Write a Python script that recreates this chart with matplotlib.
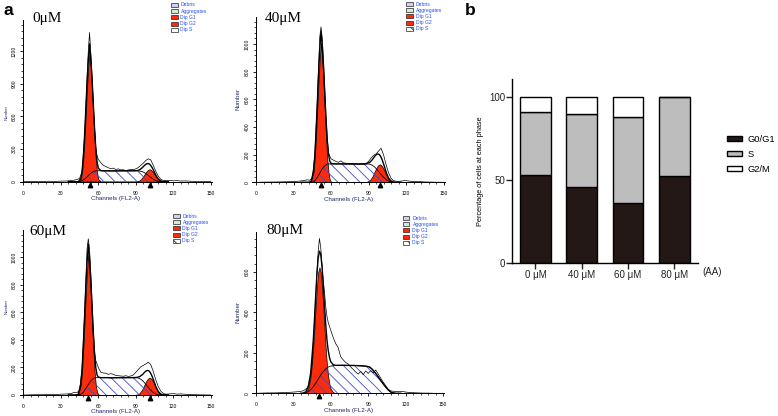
import numpy as np
import matplotlib.pyplot as plt
from matplotlib.patches import Rectangle, Patch
from matplotlib.ticker import MultipleLocator

plt.rcParams["font.family"] = ["Liberation Sans", "DejaVu Sans"]
plt.rcParams["hatch.linewidth"] = 0.6

W, H = 778, 416

# ---- panel a: flow cytometry histograms ----
# channel grid for the fitted components (G1, S, G2)
CH = [36, 38, 40, 42, 44, 46, 47, 48, 49, 50, 51, 52, 53, 54, 55, 56, 57, 58, 59, 60,
      62, 64, 67, 70, 80, 88, 91, 93, 95, 96, 97, 98, 99, 100, 101, 102, 103, 104, 105, 106,
      108, 110, 112, 116]
# channel grid for the raw histogram
RAW_CH = [0, 5, 10, 15, 20, 25, 30, 34, 38, 41, 43, 45, 47, 49, 50, 51, 52, 53, 54, 55,
          56, 57, 58, 59, 60, 62, 64, 66, 68, 70, 72, 74, 76, 78, 80, 82, 84, 86, 88, 90,
          92, 94, 96, 98, 100, 102, 104, 106, 108, 110, 112, 114, 117, 120, 123, 126, 130, 134, 138, 143,
          150]

# 0 uM
G1_0 = [0, 0, 0, 0, 0, 24, 84, 204, 396, 624, 864, 1056, 1200, 1056, 864, 624, 396, 204, 84, 24,
        0, 0, 0, 0, 0, 0, 0, 0, 0, 0, 0, 0, 0, 0, 0, 0, 0, 0, 0, 0, 0, 0, 0, 0]
S_0 = [0, 0, 0, 0, 0, 5, 10, 16, 24, 34, 45, 56, 67, 77, 86, 92, 97, 100, 101, 101,
       101, 100, 100, 99, 100, 100, 100, 98, 93, 88, 82, 74, 66, 57, 48, 39, 31, 23, 16, 10, 3, 1, 0, 0]
G2_0 = [0, 0, 0, 0, 0, 0, 0, 0, 0, 0, 0, 0, 0, 0, 0, 0, 0, 0, 0, 0,
        0, 0, 0, 0, 0, 0, 2, 11, 34, 50, 68, 86, 100, 109, 114, 109, 100, 86, 68, 50, 21, 6, 1, 0]
RAW_0 = [0, 2, 3, 2, 4, 3, 5, 6, 10, 15, 20, 30, 90, 420, 680, 950, 1200, 1370, 1180, 960,
         720, 500, 320, 240, 205, 175, 150, 140, 128, 120, 125, 112, 118, 108, 110, 102, 108, 112, 110, 118,
         130, 150, 170, 195, 210, 200, 150, 95, 50, 22, 12, 9, 12, 8, 10, 6, 7, 4, 3, 2, 1]
PEAKS_0 = [53, 101]

# 40 uM
G1_40 = [0, 0, 0, 0, 4, 71, 172, 333, 525, 727, 889, 1010, 889, 727, 525, 333, 172, 71, 20, 4,
         0, 0, 0, 0, 0, 0, 0, 0, 0, 0, 0, 0, 0, 0, 0, 0, 0, 0, 0, 0, 0, 0, 0, 0]
S_40 = [0, 0, 0, 0, 1, 6, 12, 22, 35, 50, 66, 82, 96, 108, 118, 126, 131, 133, 133, 133,
        133, 133, 133, 133, 132, 133, 131, 124, 110, 100, 90, 79, 68, 57, 47, 37, 29, 21, 14, 9, 3, 1, 0, 0]
G2_40 = [0, 0, 0, 0, 0, 0, 0, 0, 0, 0, 0, 0, 0, 0, 0, 0, 0, 0, 0, 0,
         0, 0, 0, 0, 0, 1, 13, 39, 78, 98, 114, 125, 130, 125, 114, 98, 78, 57, 39, 23, 7, 1, 0, 0]
RAW_40 = [0, 1, 2, 2, 3, 4, 5, 8, 12, 18, 15, 30, 190, 580, 820, 1050, 1124, 1040, 880, 680,
          480, 320, 215, 190, 170, 160, 150, 145, 155, 140, 138, 135, 136, 133, 135, 130, 132, 128, 135, 150,
          175, 195, 205, 225, 246, 200, 130, 70, 30, 12, 8, 6, 10, 12, 8, 5, 6, 3, 2, 1, 0]
PEAKS_40 = [52, 99]

# 60 uM
G1_60 = [0, 0, 0, 0, 4, 71, 173, 337, 530, 734, 898, 1020, 898, 734, 530, 337, 173, 71, 20, 4,
         0, 0, 0, 0, 0, 0, 0, 0, 0, 0, 0, 0, 0, 0, 0, 0, 0, 0, 0, 0, 0, 0, 0, 0]
S_60 = [0, 0, 0, 0, 1, 6, 11, 20, 33, 47, 62, 77, 91, 102, 111, 119, 124, 126, 126, 126,
        126, 126, 126, 125, 126, 126, 125, 120, 108, 99, 89, 78, 67, 56, 45, 35, 26, 18, 12, 7, 2, 1, 0, 0]
G2_60 = [0, 0, 0, 0, 0, 0, 0, 0, 0, 0, 0, 0, 0, 0, 0, 0, 0, 0, 0, 0,
         0, 0, 0, 0, 0, 0, 3, 13, 38, 55, 76, 95, 111, 121, 126, 121, 111, 95, 76, 55, 23, 6, 1, 0]
RAW_60 = [0, 1, 2, 2, 3, 3, 6, 7, 10, 20, 18, 35, 190, 590, 830, 1060, 1134, 1060, 880, 680,
          480, 320, 250, 225, 200, 165, 160, 158, 150, 155, 150, 142, 140, 138, 136, 140, 135, 138, 145, 165,
          185, 205, 215, 225, 238, 220, 170, 110, 60, 28, 12, 6, 8, 10, 6, 8, 5, 3, 2, 1, 0]
PEAKS_60 = [52, 101]

# 80 uM
G1_80 = [0, 1, 5, 22, 83, 222, 323, 432, 529, 597, 621, 597, 529, 432, 323, 222, 139, 83, 45, 22,
         5, 1, 0, 0, 0, 0, 0, 0, 0, 0, 0, 0, 0, 0, 0, 0, 0, 0, 0, 0, 0, 0, 0, 0]
S_80 = [0, 0, 2, 8, 18, 32, 40, 50, 60, 70, 80, 90, 99, 107, 114, 120, 125, 129, 132, 134,
        136, 137, 138, 138, 137, 134, 130, 120, 106, 98, 90, 81, 72, 63, 55, 47, 39, 31, 24, 17, 6, 2, 0, 0]
G2_80 = [0] * 44
RAW_80 = [0, 1, 2, 2, 3, 4, 6, 8, 12, 25, 50, 140, 350, 600, 700, 764, 720, 640, 560, 500,
          430, 380, 350, 330, 312, 275, 245, 225, 180, 165, 152, 145, 130, 118, 105, 95, 108, 92, 110, 98,
          112, 100, 115, 95, 75, 55, 38, 20, 12, 10, 8, 9, 10, 6, 4, 3, 2, 1, 1, 0, 0]
PEAKS_80 = [51]

# ---- panel b: stacked bars ----
DOSES = ["0 μM", "40 μM", "60 μM", "80 μM"]
G0G1 = [53.2, 45.6, 36.4, 52.4]
S_PH = [37.6, 43.8, 51.2, 47.6]
G2M = [9.2, 10.6, 12.4, 0.0]
PHASES = ["G0/G1", "S", "G2/M"]

C_RED = "#fb2c0c"
C_HATCH = "#3a4ccf"
C_LEG = "#2a4df0"
C_NAVY = "#22286a"
C_PHASE = ["#231815", "#bdbdbd", "white"]


def fx(x):
    return x / W


def fy(y):
    return 1 - y / H


fig = plt.figure(figsize=(W / 100, H / 100), dpi=100)

# title, y-axis px, x-axis px, top px, ymax, major, minor, data, title pos, legend pos, "Number" pos/size
panels = [
    ("0μM", 23.3, 181.7, 20.0, 1485, 300, 60, (G1_0, S_0, G2_0, RAW_0, PEAKS_0),
     (32, 21.7), (171, 5), (6.7, 113, 3.1)),
    ("40μM", 256.0, 182.3, 17.0, 1195, 200, 40, (G1_40, S_40, G2_40, RAW_40, PEAKS_40),
     (265, 21.7), (406, 4), (238.3, 99, 4.5)),
    ("60μM", 23.3, 395.0, 230.0, 1198, 200, 40, (G1_60, S_60, G2_60, RAW_60, PEAKS_60),
     (29.5, 235), (173, 216), (6.7, 307, 3.1)),
    ("80μM", 255.7, 393.3, 231.7, 797, 200, 40, (G1_80, S_80, G2_80, RAW_80, PEAKS_80),
     (266, 234), (403, 218), (238.3, 312, 4.5)),
]

PX_CH = 1.25
for title, yax, xax, top, ymax, major, minor, data, tpos, lpos, npos in panels:
    g1, s, g2, raw, peaks = [np.asarray(d, dtype=float) for d in data]
    left = yax - 3 * PX_CH
    ax = fig.add_axes([fx(left), fy(xax), 154 * PX_CH / W, (xax - top) / H])
    ax.set_xlim(-3, 151)
    ax.set_ylim(0, ymax)

    ax.fill_between(CH, 0, g1, facecolor=C_RED, edgecolor="black", lw=0.5, zorder=2)
    ax.fill_between(CH, 0, g2, facecolor=C_RED, edgecolor="black", lw=0.5, zorder=2)
    ax.fill_between(CH, 0, s, facecolor="none", edgecolor=C_HATCH, hatch="\\\\\\",
                    lw=0, zorder=3)
    ax.plot(CH, s, color="black", lw=0.6, zorder=4)
    ax.plot(RAW_CH, raw, color="black", lw=0.5, zorder=5)
    ax.plot(CH, g1 + s + g2, color="black", lw=1.0, zorder=5)
    ax.plot(peaks, [-ymax * 0.018] * len(peaks), "^", color="black", ms=3.2,
            clip_on=False, zorder=6)

    for side in ("top", "right"):
        ax.spines[side].set_visible(False)
    ax.spines["left"].set_position(("data", 0))
    for side in ("left", "bottom"):
        ax.spines[side].set_linewidth(0.7)

    ax.set_xticks([0, 30, 60, 90, 120, 150])
    ax.xaxis.set_minor_locator(MultipleLocator(6))
    ax.set_yticks(np.arange(0, ymax, major))
    ax.yaxis.set_minor_locator(MultipleLocator(minor))
    ax.tick_params(which="major", length=2.5, width=0.6, labelsize=3.6, pad=2)
    ax.tick_params(axis="x", which="major", pad=4)
    ax.tick_params(which="minor", length=1.3, width=0.5)
    ax.tick_params(axis="y", labelrotation=90)
    for lab in ax.get_yticklabels():
        lab.set_va("center")
    ax.set_xlabel("Channels (FL2-A)", fontsize=4.5, color=C_NAVY, labelpad=0.3)

    fig.text(fx(npos[0]), fy(npos[1]), "Number", rotation=90, fontsize=npos[2],
             color=C_NAVY, ha="center", va="center")
    fig.text(fx(tpos[0]), fy(tpos[1]), title, family="Liberation Serif",
             fontsize=11, va="baseline", ha="left")

    items = [("Debris", "#cdd0f2", None), ("Aggregates", "#cdeed6", None),
             ("Dip G1", C_RED, None), ("Dip G2", C_RED, None), ("Dip S", "white", "\\\\")]
    for i, (lab, fc, hatch) in enumerate(items):
        yy = lpos[1] + i * 6.2
        fig.add_artist(Rectangle((fx(lpos[0]), fy(yy + 2)), 6.5 / W, 4 / H,
                                 transform=fig.transFigure, facecolor=fc,
                                 edgecolor="#222222", lw=0.5, hatch=hatch))
        fig.text(fx(lpos[0] + 9.5), fy(yy), lab, fontsize=3.6, color=C_LEG,
                 ha="left", va="center")

# ---- panel b ----
axb = fig.add_axes([fx(512.3), fy(263.3), (698 - 512.3) / W, (263.3 - 79) / H])
x = np.arange(len(DOSES))
bottom = np.zeros(len(DOSES))
for vals, col, lab in zip([G0G1, S_PH, G2M], C_PHASE, PHASES):
    axb.bar(x, vals, bottom=bottom, width=0.66, color=col, edgecolor="black",
            lw=1.0, label=lab)
    bottom += np.asarray(vals)
axb.set_xlim(-0.5, 3.51)
axb.set_ylim(0, 110.6)
axb.set_yticks([0, 50, 100])
axb.set_xticks(x)
axb.set_xticklabels(DOSES)
axb.spines["top"].set_visible(False)
axb.spines["right"].set_visible(False)
for side in ("left", "bottom"):
    axb.spines[side].set_linewidth(1.0)
axb.tick_params(length=4, width=1.0, labelsize=7, pad=1, colors="#222222")
axb.set_ylabel("Percentage of cells at each phase", fontsize=5.3, labelpad=4)
fig.text(fx(711.7), fy(271.7), "(AA)", fontsize=7, ha="center", va="center",
         color="#222222")

handles = [Patch(facecolor=c, edgecolor="black", lw=1.0) for c in C_PHASE]
fig.legend(handles, PHASES, loc="center left", bbox_to_anchor=(fx(727), fy(154.3)),
           frameon=False, fontsize=6.7, handlelength=1.6, handleheight=0.55,
           labelspacing=0.65, handletextpad=0.6, borderpad=0, borderaxespad=0)

fig.text(fx(3), fy(15), "a", fontsize=12.5, fontweight="bold", va="baseline")
fig.text(fx(465), fy(15), "b", fontsize=12.5, fontweight="bold", va="baseline")

fig.savefig("out.png", dpi=100)
